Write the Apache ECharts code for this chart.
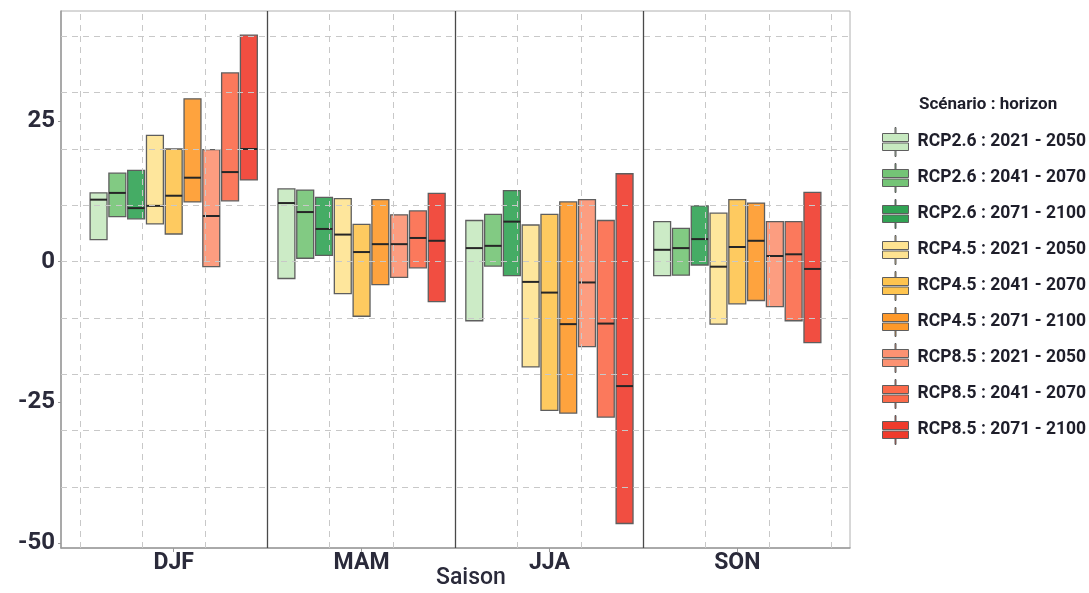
<!DOCTYPE html>
<html>
<head>
<meta charset="utf-8">
<script src="https://cdn.jsdelivr.net/npm/echarts@6/dist/echarts.min.js"></script>
<style>
  html, body { margin: 0; padding: 0; background: #ffffff; }
  #chart { width: 1089px; height: 593px; }
</style>
</head>
<body>
<div id="chart"></div>
<script>
// ---- Data ----
const seasons = ['DJF', 'MAM', 'JJA', 'SON'];
const scenarios = [
  'RCP2.6 : 2021 - 2050', 'RCP2.6 : 2041 - 2070', 'RCP2.6 : 2071 - 2100',
  'RCP4.5 : 2021 - 2050', 'RCP4.5 : 2041 - 2070', 'RCP4.5 : 2071 - 2100',
  'RCP8.5 : 2021 - 2050', 'RCP8.5 : 2041 - 2070', 'RCP8.5 : 2071 - 2100'
];
const yTickLabels = [-50, -25, 0, 25];
// each entry per season: [low, median, high]
const rcp26_2021 = [[3.9, 11.0, 12.2], [-3.0, 10.4, 12.9], [-10.5, 2.4, 7.3], [-2.5, 2.1, 7.1]];
const rcp26_2041 = [[8.0, 12.2, 15.7], [0.6, 8.8, 12.7], [-0.8, 2.8, 8.4], [-2.4, 2.4, 5.9]];
const rcp26_2071 = [[7.6, 9.5, 16.2], [1.1, 5.8, 11.4], [-2.5, 7.1, 12.6], [-0.6, 4.0, 9.9]];
const rcp45_2021 = [[6.7, 9.9, 22.4], [-5.7, 4.8, 11.2], [-18.7, -3.6, 6.5], [-11.1, -0.9, 8.6]];
const rcp45_2041 = [[4.9, 11.7, 20.0], [-9.7, 1.7, 6.6], [-26.4, -5.5, 8.4], [-7.5, 2.6, 11.0]];
const rcp45_2071 = [[10.6, 14.9, 28.9], [-4.1, 3.1, 11.0], [-26.9, -11.1, 10.6], [-6.9, 3.7, 10.4]];
const rcp85_2021 = [[-0.9, 8.1, 19.9], [-2.8, 3.1, 8.3], [-15.1, -3.7, 11.0], [-8.0, 1.0, 7.1]];
const rcp85_2041 = [[10.8, 15.9, 33.5], [-1.1, 4.2, 9.0], [-27.6, -11.0, 7.3], [-10.5, 1.3, 7.1]];
const rcp85_2071 = [[14.5, 20.0, 40.2], [-7.1, 3.7, 12.1], [-46.5, -22.1, 15.6], [-14.4, -1.3, 12.3]];
const scenarioValues = [rcp26_2021, rcp26_2041, rcp26_2071, rcp45_2021, rcp45_2041, rcp45_2071, rcp85_2021, rcp85_2041, rcp85_2071];

// ---- Styles ----
const colors = ['#c7e9c0', '#74c476', '#31a354', '#fee391', '#fec44f', '#fe9929', '#fc9272', '#fb6a4a', '#ef3b2c'];
const BOX_PITCH = 0.1;
const BOX_HALF = 0.045;

function renderBox(params, api) {
  const si = params.seriesIndex;
  const off = (si - 4) * BOX_PITCH;
  const x = api.value(0) + off;
  const lo = api.value(1), med = api.value(2), hi = api.value(3);
  const tl = api.coord([x - BOX_HALF, hi]);
  const br = api.coord([x + BOX_HALF, lo]);
  const ml = api.coord([x - BOX_HALF, med]);
  const mr = api.coord([x + BOX_HALF, med]);
  return {
    type: 'group',
    children: [
      { type: 'rect', shape: { x: tl[0], y: tl[1], width: br[0] - tl[0], height: br[1] - tl[1] },
        style: { fill: api.visual('color'), fillOpacity: 0.9, stroke: '#5e5e5e', lineWidth: 1.3 } },
      { type: 'line', shape: { x1: ml[0], y1: ml[1], x2: mr[0], y2: mr[1] },
        style: { stroke: '#262626', lineWidth: 2 } }
    ]
  };
}

const boxSeries = scenarios.map((name, si) => ({
  name: name,
  type: 'custom',
  z: 3,
  color: colors[si],
  renderItem: renderBox,
  encode: { x: 0, y: [1, 2, 3] },
  data: scenarioValues[si].map((v, i) => [i, v[0], v[1], v[2]])
}));

// gridline positions (axis decoration)
const hGrid = [];
for (let v = -40; v <= 40; v += 10) hGrid.push(v);
const vGrid = [];
for (let k = 0; k <= 12; k++) { if (k % 3 !== 0 || k === 0 || k === 12) vGrid.push(-0.5 + k / 3); }
const separators = [0.5, 1.5, 2.5];

const gridSeries = {
  name: '_grid', type: 'line', data: [], z: 1, silent: true,
  markLine: {
    silent: true, symbol: ['none', 'none'], label: { show: false },
    lineStyle: { type: [6, 5], color: '#c8c8c8', width: 1 },
    emphasis: { disabled: true },
    data: hGrid.map(v => ({ yAxis: v })).concat(vGrid.map(v => ({ xAxis: v })))
  }
};
const sepSeries = {
  name: '_sep', type: 'line', data: [], z: 2, silent: true,
  markLine: {
    silent: true, symbol: ['none', 'none'], label: { show: false },
    lineStyle: { type: 'solid', color: '#4a4a4a', width: 1.3 },
    emphasis: { disabled: true },
    data: separators.map(v => ({ xAxis: v }))
  }
};

const iconPath = 'path://M13.5,0 L14.5,0 L14.5,6 L13.5,6 Z M1,6 L27,6 L27,14 L1,14 Z M1,15.5 L27,15.5 L27,23 L1,23 Z M13.5,23 L14.5,23 L14.5,29 L13.5,29 Z';

const chart = echarts.init(document.getElementById('chart'), null, { renderer: 'canvas' });
chart.setOption({
  animation: false,
  backgroundColor: '#ffffff',
  title: {
    text: 'Scénario : horizon', left: 914, top: 91,
    textStyle: { fontFamily: 'Roboto', fontSize: 17, fontWeight: 'bold', color: '#1e1e2a' }
  },
  legend: {
    data: scenarios,
    orient: 'vertical', left: 877, top: 122,
    itemWidth: 28, itemHeight: 29, itemGap: 6,
    icon: iconPath,
    itemStyle: { borderColor: '#5e5e5e', borderWidth: 1 },
    textStyle: { fontFamily: 'Roboto', fontSize: 17.5, fontWeight: 'bold', color: '#1e1e2a', padding: [0, 0, 0, 3] },
    selectedMode: false
  },
  grid: { left: 61, top: 11, width: 789, height: 537, show: true, borderColor: '#b0b0b0', borderWidth: 1, containLabel: false },
  xAxis: {
    type: 'value', min: -0.6, max: 3.6,
    splitLine: { show: false },
    axisLine: { show: true, onZero: false, lineStyle: { color: '#9a9a9a', width: 1.5 } },
    axisTick: { show: true, customValues: [0, 1, 2, 3], length: 4, lineStyle: { color: '#9a9a9a' } },
    axisLabel: {
      customValues: [0, 1, 2, 3],
      formatter: v => seasons[Math.round(v)] || '',
      fontFamily: 'Roboto', fontSize: 23, fontWeight: 'bold', color: '#2a2a3a', margin: 4
    }
  },
  yAxis: {
    type: 'value', min: -50.85, max: 44.5,
    splitLine: { show: false },
    axisLine: { show: true, onZero: false, lineStyle: { color: '#9a9a9a', width: 1.5 } },
    axisTick: { show: true, customValues: yTickLabels, length: 3, lineStyle: { color: '#9a9a9a' } },
    axisLabel: {
      customValues: yTickLabels,
      fontFamily: 'Roboto', fontSize: 24, fontWeight: 'bold', color: '#2a2a3a', margin: 6
    }
  },
  graphic: [{
    type: 'text', left: 436, top: 567,
    style: { text: 'Saison', fontFamily: 'Roboto', fontSize: 23, fontWeight: 500, fill: '#2a2a3a' }
  }],
  series: boxSeries.concat([gridSeries, sepSeries])
});
</script>
</body>
</html>
